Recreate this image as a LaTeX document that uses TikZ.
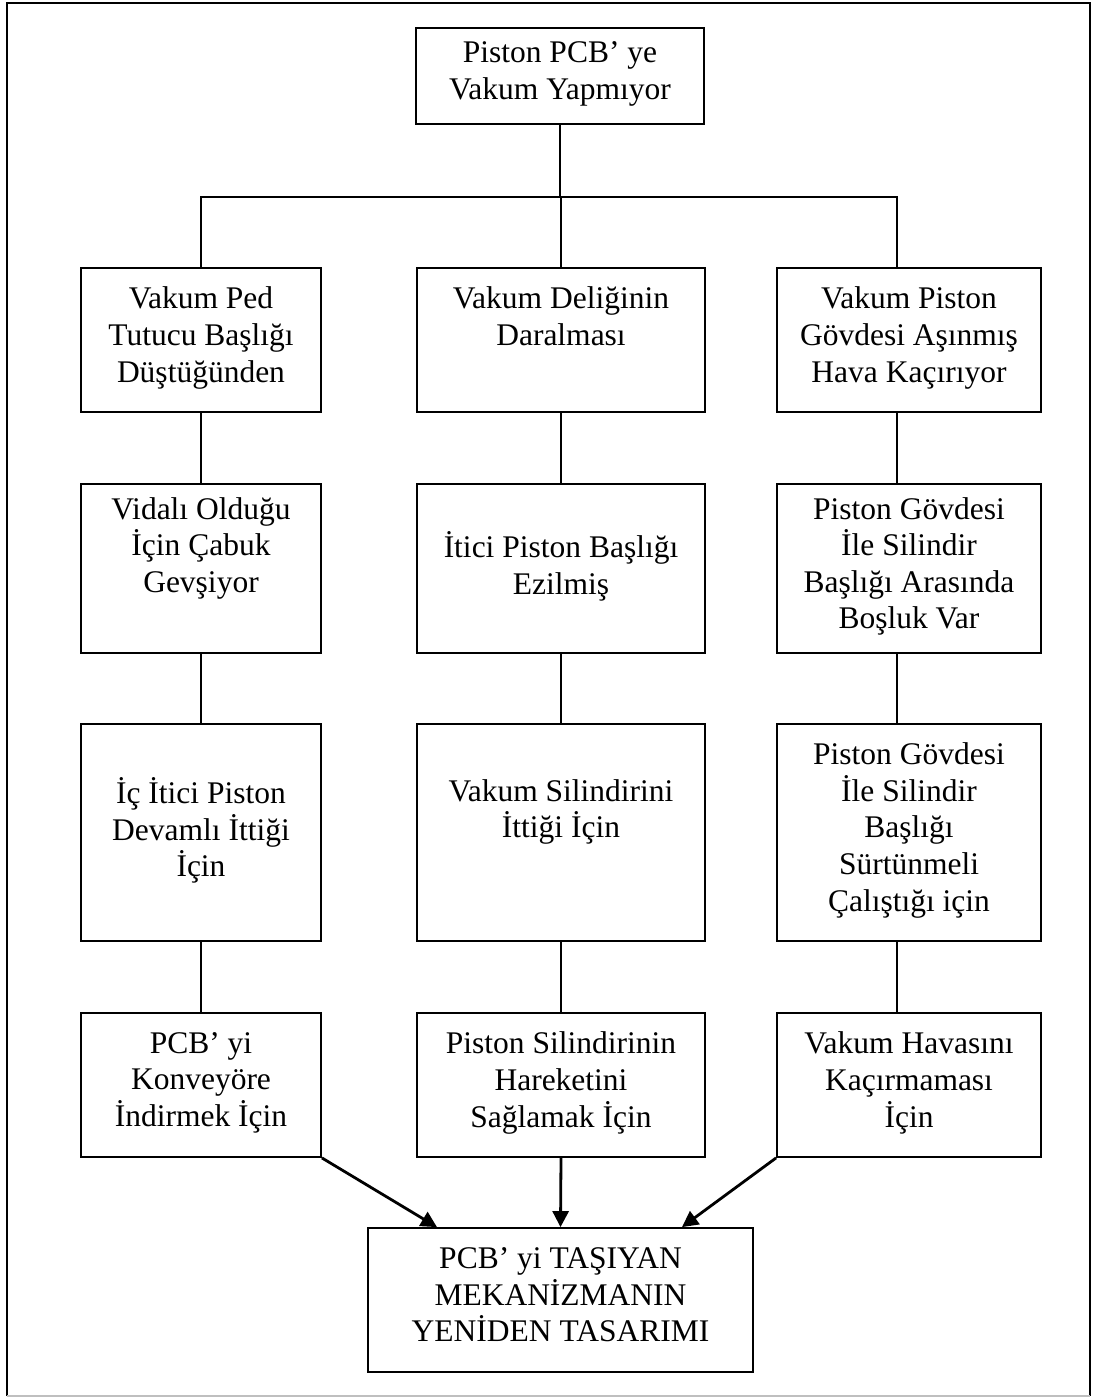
\documentclass[tikz,border=0pt]{standalone}
\usepackage{fontspec}
\setmainfont{Liberation Serif}
\usetikzlibrary{arrows.meta,calc}
\begin{document}
\begin{tikzpicture}[x=0.5pt,y=-0.5pt,
  box/.style={draw, line width=0.9pt, align=center, inner sep=0pt,
    font=\fontsize{15.75}{18.3}\selectfont,
    execute at begin node=\strut, execute at end node=\strut},
  colL/.style={minimum width=120pt},
  colM/.style={minimum width=144pt},
  colR/.style={minimum width=132pt},
  hA/.style={minimum height=72pt},
  hB/.style={minimum height=84.5pt},
  hC/.style={minimum height=108.5pt},
  link/.style={line width=0.9pt},
  arr/.style={line width=1.4pt, -{Triangle[length=8pt,width=8pt]}}]
\useasboundingbox (0,0) rectangle (1092,1397);
% page frame
\draw[line width=1pt] (7,1396) -- (7,3) -- (1090,3) -- (1090,1396);
\draw[black!25, line width=0.6pt] (7,1396) -- (1090,1396);

% top problem
\node[box, minimum width=144pt, minimum height=48pt] (top) at (560,76)
  {Piston PCB’ ye\\Vakum Yapmıyor};

% row 2
\node[box, colL, hA] (l2) at (201,340) {Vakum Ped\\Tutucu Başlığı\\Düştüğünden};
\node[box, colM, hA] (m2) at (561,340) {Vakum Deliğinin\\Daralması\\};
\node[box, colR, hA] (r2) at (909,340) {Vakum Piston\\Gövdesi Aşınmış\\Hava Kaçırıyor};

% row 3
\node[box, colL, hB] (l3) at (201,568.5) {Vidalı Olduğu\\İçin Çabuk\\Gevşiyor\\};
\node[box, colM, hB] (m3) at (561,568.5) {İtici Piston Başlığı\\Ezilmiş};
\node[box, colR, hB] (r3) at (909,568.5) {Piston Gövdesi\\İle Silindir\\Başlığı Arasında\\Boşluk Var};

% row 4
\node[box, colL, hC] (l4) at (201,832.5) {İç İtici Piston\\Devamlı İttiği\\İçin};
\node[box, colM, hC] (m4) at (561,832.5) {Vakum Silindirini\\İttiği İçin\\};
\node[box, colR, hC] (r4) at (909,832.5) {Piston Gövdesi\\İle Silindir\\Başlığı\\Sürtünmeli\\Çalıştığı için};

% row 5
\node[box, colL, hA] (l5) at (201,1085) {PCB’ yi\\Konveyöre\\İndirmek İçin};
\node[box, colM, hA] (m5) at (561,1085) {Piston Silindirinin\\Hareketini\\Sağlamak İçin};
\node[box, colR, hA] (r5) at (909,1085) {Vakum Havasını\\Kaçırmaması\\İçin};

% result
\node[box, minimum width=192.5pt, hA] (bot) at (560.5,1300)
  {PCB’ yi TAŞIYAN\\MEKANİZMANIN\\YENİDEN TASARIMI};

% branching lines
\coordinate (bus) at (561,197);
\coordinate (xl) at (201,197);
\coordinate (xr) at (897,197);
\draw[link] (top.south) -- (top.south |- bus);
\draw[link] (l2.north) -- (xl) -- (xr) -- (r2.north -| xr);
\draw[link] (m2.north) -- (m2.north |- bus);

% column links
\draw[link] (l2.south) -- (l3.north);
\draw[link] (l3.south) -- (l4.north);
\draw[link] (l4.south) -- (l5.north);
\draw[link] (m2.south) -- (m3.north);
\draw[link] (m3.south) -- (m4.north);
\draw[link] (m4.south) -- (m5.north);
\draw[link] (r2.south -| xr) -- (r3.north -| xr);
\draw[link] (r3.south -| xr) -- (r4.north -| xr);
\draw[link] (r4.south -| xr) -- (r5.north -| xr);

% arrows into the result
\draw[arr] (l5.south east) -- ($(bot.north)+(-123.5,0)$);
\draw[arr] (m5.south) -- (bot.north);
\draw[arr] (r5.south west) -- ($(bot.north)+(121.5,0)$);
\end{tikzpicture}
\end{document}
